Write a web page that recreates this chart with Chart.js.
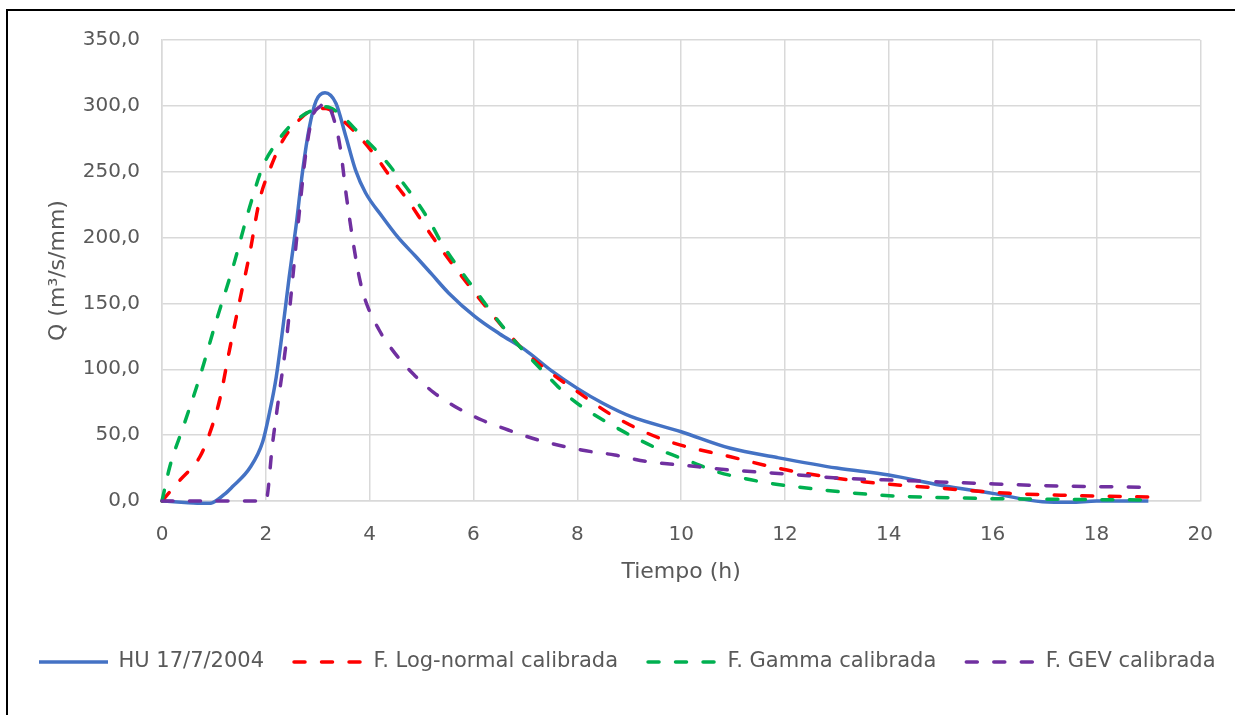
<!DOCTYPE html>
<html>
<head>
<meta charset="utf-8">
<script src="https://cdn.jsdelivr.net/npm/chart.js@4.4.1/dist/chart.umd.min.js"></script>
<style>
  html, body { margin: 0; padding: 0; background: #fff; }
  #wrap { position: relative; width: 1235px; height: 715px; overflow: hidden; }
  #frame { position: absolute; left: 6px; top: 9px; width: 1300px; height: 800px;
           border-left: 2px solid #000; border-top: 2px solid #000; }
  #c { position: absolute; left: 0; top: 0; }
</style>
</head>
<body>
<div id="wrap">
  <div id="frame"></div>
  <canvas id="c" width="1235" height="715"></canvas>
</div>
<script>
// Hidrograma unitario observado (17/7/2004) y funciones calibradas
const huTime = [0, 0.3, 0.6, 0.92, 1.2, 1.36, 1.69, 1.94, 2.07, 2.2, 2.33, 2.45, 2.58, 2.71, 2.84, 2.97, 3.14, 3.35, 3.54, 3.73, 3.92, 4.24, 4.56, 4.88, 5.2, 5.52, 6.03, 6.5, 7.0, 7.5, 8.0, 8.5, 9.04, 10.0, 10.95, 11.85, 13.0, 14.0, 15.0, 16.0, 16.96, 17.5, 18.0, 19.0];
const huQ    = [0, -0.8, -1.5, -1.8, 5, 11, 25, 45, 67, 94, 132, 170, 208, 251, 284, 304, 310, 302, 277, 251, 234, 216, 199.5, 186, 172, 158, 140, 127, 114.6, 99, 85.5, 74, 64, 52.6, 40, 33, 25, 19.7, 12, 5.8, -0.5, -1, 0, 0];

const logNormalTime = [0, 0.35, 0.73, 0.92, 1.11, 1.3, 1.5, 1.69, 1.88, 2.07, 2.33, 2.58, 2.9, 3.16, 3.48, 3.8, 4.12, 4.44, 4.76, 5.08, 5.39, 6.03, 6.67, 7.0, 7.5, 8.0, 8.72, 9.68, 10.95, 12.04, 13.51, 15.04, 16.32, 17.5, 19];
const logNormalQ    = [0, 16, 33.6, 51.5, 76.7, 114.6, 152.6, 188, 228.5, 251, 274, 286.8, 297, 298, 289, 276.6, 261.4, 243.7, 227, 208, 190.6, 157.7, 127.3, 113, 97, 83, 64, 46.3, 33.6, 23.5, 14.7, 9.6, 5.8, 4.2, 3];

const gammaTime = [0, 0.15, 0.41, 0.73, 1.05, 1.37, 1.69, 1.94, 2.2, 2.52, 2.84, 3.16, 3.48, 3.8, 4.18, 4.5, 5.14, 5.39, 6.03, 6.67, 7.44, 7.87, 8.72, 9.68, 10.19, 10.68, 11.21, 11.72, 12.18, 13.77, 15.69, 17.5, 19];
const gammaQ    = [0, 26, 56.4, 94.4, 137.4, 177.9, 223.4, 253.8, 271.6, 286.8, 295.6, 299.4, 291.8, 279.1, 264, 248.8, 213.4, 195.6, 160.2, 127.3, 94.4, 78, 56.4, 37.4, 29.8, 22.3, 17.2, 13.4, 10.9, 4.6, 2, 1.2, 0.8];

const gevTime = [0, 1.0, 2.0, 2.13, 2.26, 2.39, 2.52, 2.65, 2.77, 2.9, 3.06, 3.14, 3.25, 3.43, 3.55, 3.70, 3.81, 3.92, 4.18, 4.47, 4.85, 5.23, 5.65, 6.16, 6.67, 7.25, 8.08, 8.72, 9.36, 10.0, 10.95, 12.04, 13.13, 14.41, 15.69, 17.28, 19];
const gevQ    = [0, 0, 0, 43.8, 81.8, 119.7, 170, 221, 264, 291.8, 300, 303, 297, 269, 232, 192, 168, 152, 130, 113, 96, 82.5, 71.6, 61.5, 53.9, 46.3, 38.7, 34.9, 29.8, 27.3, 23.5, 20.5, 17.2, 15.4, 13.4, 11.4, 10.4];

const seriesNames = ['HU 17/7/2004', 'F. Log-normal calibrada', 'F. Gamma calibrada', 'F. GEV calibrada'];
const xTickLabels = ['0', '2', '4', '6', '8', '10', '12', '14', '16', '18', '20'];
const yTickLabels = ['0,0', '50,0', '100,0', '150,0', '200,0', '250,0', '300,0', '350,0'];

const FONT = "'DejaVu Sans', 'Verdana', sans-serif";
const TEXT = '#595959';
const GRID = '#d9d9d9';
const DASH = [11, 16.5];

function pairs(t, q) { return t.map((x, i) => ({ x: x, y: q[i] })); }

function lineSet(label, t, q, color, dashed, order) {
  return {
    label: label,
    data: pairs(t, q),
    borderColor: color,
    backgroundColor: color,
    borderWidth: 3.5,
    borderDash: dashed ? DASH : [],
    borderCapStyle: dashed ? 'round' : 'butt',
    borderJoinStyle: 'round',
    pointRadius: 0,
    pointHoverRadius: 0,
    pointStyle: 'line',
    fill: false,
    cubicInterpolationMode: 'monotone',
    clip: 4,
    order: order
  };
}

Chart.defaults.font.family = FONT;
Chart.defaults.color = TEXT;

// legend swatches: a line carrying each series' own dash pattern
function legendLabels(chart) {
  const items = Chart.defaults.plugins.legend.labels.generateLabels(chart);
  items.forEach((it) => {
    const ds = chart.data.datasets[it.datasetIndex];
    it.lineDash = ds.borderDash;
    it.lineCap = ds.borderCapStyle;
    it.lineWidth = ds.borderWidth;
    it.strokeStyle = ds.borderColor;
    it.fillStyle = ds.borderColor;
    it.pointStyle = 'line';
  });
  return items.sort((a, b) => a.datasetIndex - b.datasetIndex);
}

new Chart(document.getElementById('c'), {
  type: 'line',
  data: {
    datasets: [
      lineSet(seriesNames[0], huTime, huQ, '#4472C4', false, 4),
      lineSet(seriesNames[1], logNormalTime, logNormalQ, '#FF0000', true, 3),
      lineSet(seriesNames[2], gammaTime, gammaQ, '#00B050', true, 2),
      lineSet(seriesNames[3], gevTime, gevQ, '#7030A0', true, 1)
    ]
  },
  options: {
    responsive: false,
    animation: false,
    events: [],
    layout: { padding: { left: 9, top: 40, right: -35, bottom: 32.5 } },
    plugins: {
      tooltip: { enabled: false },
      legend: {
        position: 'bottom',
        align: 'start',
        labels: {
          usePointStyle: true,
          pointStyle: 'line',
          pointStyleWidth: 69,
          padding: 30,
          color: TEXT,
          font: { family: FONT, size: 21 },
          generateLabels: legendLabels
        }
      }
    },
    scales: {
      x: {
        type: 'linear',
        position: 'bottom',
        min: 0, max: 20,
        afterBuildTicks: (s) => { s.ticks = xTickLabels.map((_, i) => ({ value: i * 2 })); },
        ticks: {
          padding: 22,
          color: TEXT,
          font: { family: FONT, size: 20 },
          callback: (v, i) => xTickLabels[i]
        },
        grid: { color: GRID, lineWidth: 1.5, drawTicks: false },
        border: { color: GRID, width: 1.5 },
        title: {
          display: true,
          text: 'Tiempo (h)',
          color: TEXT,
          font: { family: FONT, size: 22 },
          padding: { top: 0, bottom: 36 }
        },
        afterFit: (s) => { s.height = 120.5; }
      },
      y: {
        type: 'linear',
        position: 'left',
        min: 0, max: 350,
        afterBuildTicks: (s) => { s.ticks = yTickLabels.map((_, i) => ({ value: i * 50 })); },
        ticks: {
          padding: 22,
          color: TEXT,
          font: { family: FONT, size: 20 },
          callback: (v, i) => yTickLabels[i]
        },
        grid: { color: GRID, lineWidth: 1.5, drawTicks: false },
        border: { color: GRID, width: 1.5 },
        title: {
          display: true,
          text: 'Q (m³/s/mm)',
          color: TEXT,
          font: { family: FONT, size: 22 },
          padding: { top: 36, bottom: 0 }
        },
        afterFit: (s) => { s.width = 153; }
      },
      spacer: {
        type: 'linear',
        position: 'right',
        display: true,
        ticks: { display: false },
        grid: { display: false, drawTicks: false },
        border: { display: false },
        afterFit: (s) => { s.width = 65; }
      }
    }
  }
});
</script>
</body>
</html>
